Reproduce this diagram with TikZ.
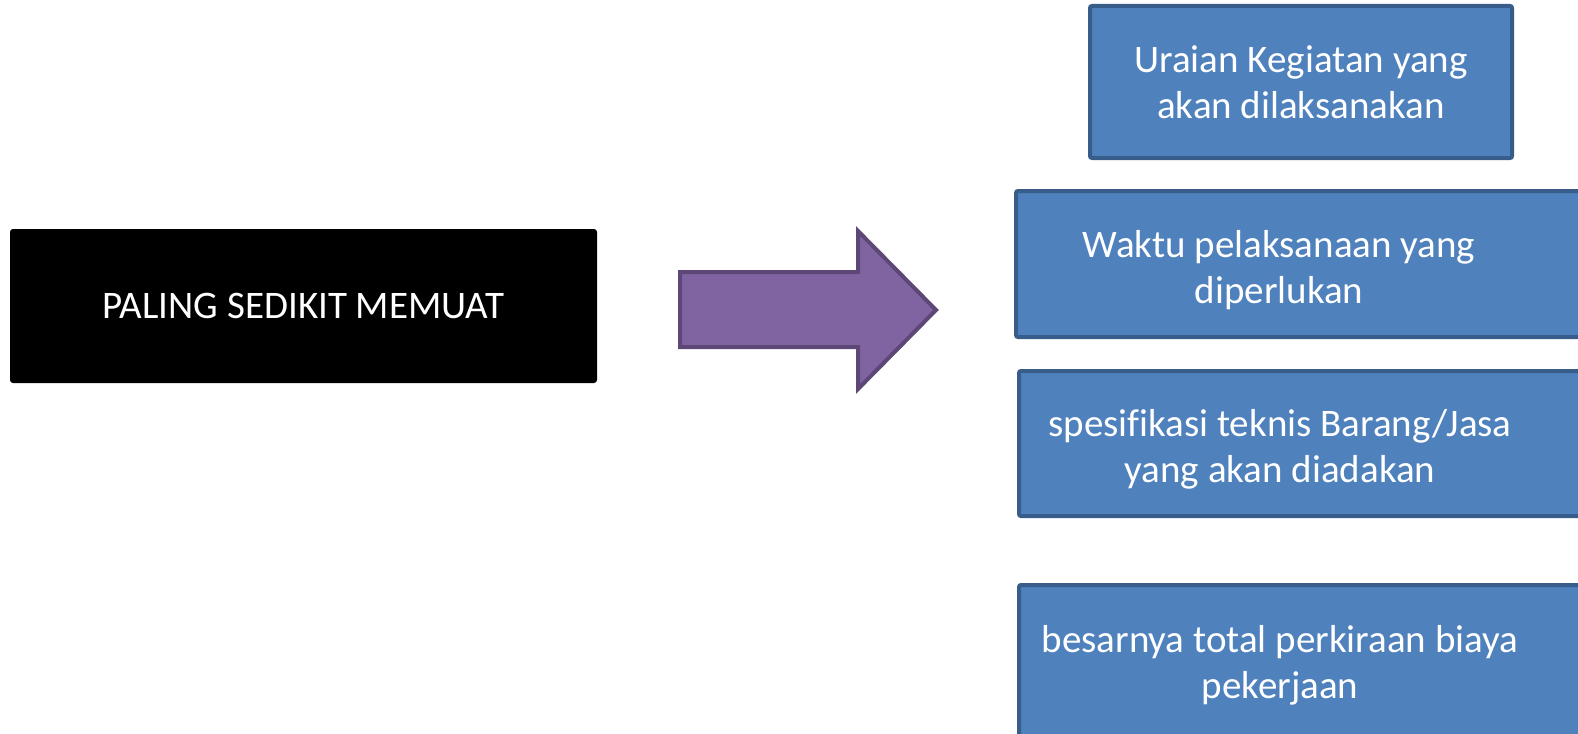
\documentclass[tikz,border=0pt]{standalone}
\usepackage{fontspec}
\setmainfont[Ligatures=NoCommon]{Carlito}
\definecolor{boxblue}{HTML}{4F81BD}
\definecolor{boxedge}{HTML}{385D8A}
\definecolor{arrowfill}{HTML}{8064A2}
\definecolor{arrowedge}{HTML}{5C4776}
\begin{document}
\begin{tikzpicture}[x=1pt,y=-1pt,
  itembox/.style={fill=boxblue,draw=boxedge,line width=4pt,rounded corners=2pt},
  itemtext/.style={text=white,align=center,font=\fontsize{39}{46}\selectfont,inner sep=0pt},
  titlebox/.style={fill=black,rounded corners=3pt,text=white,align=center,
    font=\fontsize{39}{46}\selectfont,minimum width=587pt,minimum height=154pt,inner sep=0pt}]
\useasboundingbox (0,0) rectangle (1578,733);
\clip (0,0) rectangle (1578,733);

% heading box
\node[titlebox] (title) at (303.5,306) {PALING SEDIKIT MEMUAT};

% block arrow
\coordinate (a1) at (680,272);
\coordinate (a2) at (858,272);
\coordinate (a3) at (858,231);
\coordinate (tip) at (936,310);
\coordinate (a5) at (858,389);
\coordinate (a6) at (858,347);
\coordinate (a7) at (680,347);
\draw[fill=arrowfill,draw=arrowedge,line width=4pt,line join=miter]
  (a1) -- (a2) -- (a3) -- (tip) -- (a5) -- (a6) -- (a7) -- cycle;

% item boxes
\draw[itembox] (1090,6) rectangle (1512,158);
\node[itemtext] (t1) at (1301,82) {Uraian Kegiatan yang\\akan dilaksanakan};

\draw[itembox] (1016,191) rectangle (1610,337);
\node[itemtext] (t2) at (1279,270) {Waktu pelaksanaan yang\\diperlukan};

\draw[itembox] (1019,371) rectangle (1610,516);
\node[itemtext] (t3) at (1280,449) {spesifikasi teknis Barang/Jasa\\yang akan diadakan};

\draw[itembox] (1019,585) rectangle (1610,760);
\node[itemtext] (t4) at (1280,665) {besarnya total perkiraan biaya\\pekerjaan};
\end{tikzpicture}
\end{document}
